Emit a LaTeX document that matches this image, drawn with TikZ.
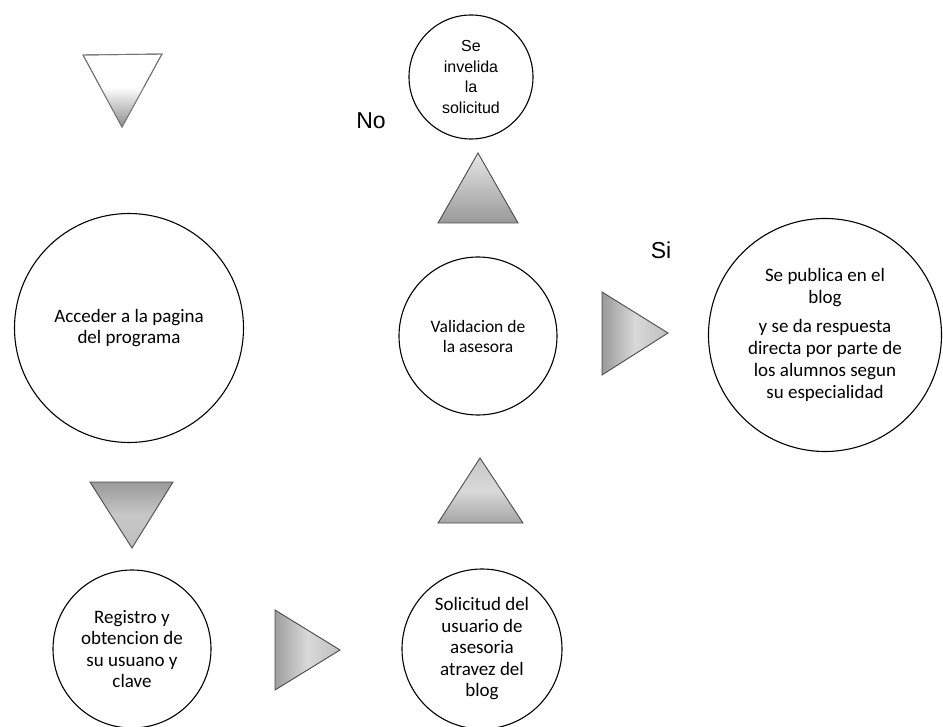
\documentclass[tikz,border=0pt]{standalone}
\usepackage{fontspec}
\setmainfont{Carlito}
\newfontfamily\arialf{Liberation Sans}
\begin{document}
\begin{tikzpicture}[x=1pt,y=-1pt,
  circ/.style={draw=black, line width=1.1pt, circle, inner sep=0pt, align=center,
    font=\fontsize{19}{21.5}\selectfont, text=black},
  tri/.style={draw=black!70, line width=0.9pt, line join=miter},
  lbl/.style={font=\arialf\fontsize{23}{26}\selectfont, inner sep=0pt}]
\useasboundingbox[fill=white] (0,0) rectangle (943,727);

% circles
\node[circ, minimum size=124pt, font=\arialf\fontsize{16}{20.5}\selectfont] (inv) at (471,77)
  {Se\\invelida\\la\\solicitud};
\node[circ, minimum size=229pt] (acc) at (129,328) {Acceder a la pagina\\del programa};
\node[circ, minimum size=158pt, font=\fontsize{17.5}{20}\selectfont] (val) at (478,336)
  {Validacion de\\la asesora};
\node[circ, minimum size=233pt, font=\fontsize{19}{22}\selectfont] (pub) at (825,335)
  {Se publica en el\\blog\\[7pt]y se da respuesta\\directa por parte de\\los alumnos segun\\su especialidad};
\node[circ, minimum size=158pt] (reg) at (132,649) {Registro y\\obtencion de\\su usuano y\\clave};
\node[circ, minimum size=160pt] (sol) at (482,649)
  {Solicitud del\\usuario de\\asesoria\\atravez del\\blog};

% labels
\node[lbl] (no) at (371,121) {No};
\node[lbl] (si) at (661,250) {Si};

% triangles
\filldraw[tri, draw=black!55, fill=white] (83,55) -- (162,54) -- (122,127) -- cycle;
\shade[top color=white, bottom color=black!45]
  (100.5,87) -- (144.5,87) -- (122,127) -- cycle;
\draw[tri, draw=black!55] (83,55) -- (162,54) -- (122,127) -- cycle;
\shadedraw[tri, top color=black!10, bottom color=black!40]
  (478,153) -- (518,223) -- (438,223) -- cycle;
\shadedraw[tri, left color=black!40, right color=black!25, middle color=black!15]
  (602,292) -- (668,333) -- (602,375) -- cycle;
\shadedraw[tri, top color=black!40, bottom color=black!25, middle color=black!22]
  (90,482) -- (173,482) -- (132,548) -- cycle;
\shadedraw[tri, left color=black!38, right color=black!25, middle color=black!15]
  (275,610) -- (340,650) -- (275,690) -- cycle;
\shadedraw[tri, top color=black!22, bottom color=black!35, middle color=black!15]
  (480,458) -- (523,523) -- (438,523) -- cycle;
\end{tikzpicture}
\end{document}
